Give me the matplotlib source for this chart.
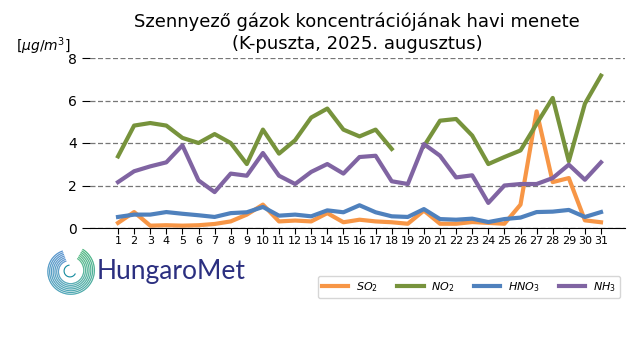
import numpy as np
import matplotlib
matplotlib.use("Agg")
import matplotlib.pyplot as plt
from matplotlib.colors import LinearSegmentedColormap

days = list(range(1, 32))
so2 = [0.24, 0.75, 0.11, 0.13, 0.11, 0.13, 0.19, 0.31, 0.63, 1.10, 0.31, 0.35, 0.31, 0.70, 0.27, 0.39,
       0.31, 0.27, 0.20, 0.82, 0.20, 0.20, 0.28, 0.24, 0.20, 1.10, 5.49, 2.16, 2.35, 0.36, 0.27]
no2 = [3.37, 4.82, 4.94, 4.82, 4.24, 4.00, 4.42, 4.00, 3.01, 4.63, 3.50, 4.13, 5.20, 5.62, 4.63, 4.31,
       4.63, 3.72, np.nan, 3.85, 5.05, 5.13, 4.35, 3.01, 3.34, 3.65, 4.90, 6.12, 3.14, 5.85, 7.17]
hno3 = [0.52, 0.63, 0.63, 0.75, 0.67, 0.60, 0.52, 0.70, 0.74, 0.99, 0.58, 0.63, 0.55, 0.83, 0.74, 1.07,
        0.74, 0.55, 0.52, 0.89, 0.42, 0.39, 0.44, 0.28, 0.42, 0.49, 0.75, 0.77, 0.85, 0.52, 0.75]
nh3 = [2.16, 2.67, 2.90, 3.09, 3.89, 2.24, 1.69, 2.56, 2.46, 3.53, 2.46, 2.07, 2.64, 3.01, 2.56, 3.34,
       3.40, 2.20, 2.07, 3.95, 3.40, 2.38, 2.48, 1.18, 2.00, 2.07, 2.07, 2.35, 2.98, 2.27, 3.09]
series_labels = ["$SO_2$", "$NO_2$", "$HNO_3$", "$NH_3$"]
colors = ["#F79646", "#77933C", "#4F81BD", "#8064A2"]
yticks = [0, 2, 4, 6, 8]

fig = plt.figure(figsize=(6.4, 3.6), dpi=100)
ax = fig.add_axes([90/640, 1-228/360, 535/640, 170/360])
for vals, lab, c in zip([so2, no2, hno3, nh3], series_labels, colors):
    ax.plot(days, vals, color=c, lw=3, label=lab)
ax.set_xlim(-0.74, 32.49)
ax.set_ylim(0, 8)
ax.set_yticks(yticks)
ax.set_xticks(days)
ax.tick_params(axis='x', labelsize=8, length=4, pad=2)
ax.tick_params(axis='y', labelsize=10, length=6)
for s in ["top", "right", "left"]:
    ax.spines[s].set_visible(False)
ax.yaxis.grid(True, linestyle=(0, (4, 2)), color="#777777", lw=0.9)
ax.set_axisbelow(True)

fig.text(357/640, 1-22/360, "Szennyező gázok koncentrációjának havi menete", ha='center', va='center', fontsize=13)
fig.text(357/640, 1-44/360, "(K-puszta, 2025. augusztus)", ha='center', va='center', fontsize=13)
fig.text(43/640, 1-46/360, r"[$\mu g/m^3$]", ha='center', va='center', fontsize=10)

leg = fig.legend(loc='center', bbox_to_anchor=(469/640, 1-287/360), ncol=4, fontsize=8,
                 handlelength=2.35, handletextpad=0.7, columnspacing=1.75, frameon=True)
leg.get_frame().set_edgecolor("#cccccc")

# logo spiral
lax = fig.add_axes([44/640, 1-297/360, 52/640, 52/360])
lax.set_aspect('equal')
lax.axis('off')
cmap = LinearSegmentedColormap.from_list("hm", ["#1f6fc0", "#138a9e", "#1aa35a"])
for k in range(7):
    r0 = 0.45 + k * 0.075
    t = np.linspace(np.deg2rad(-250), np.deg2rad(60), 200)
    r = r0 + 0.03 * (t - t[0])
    x = r * np.cos(t)
    y = r * np.sin(t)
    for i in range(len(t) - 1):
        lax.plot(x[i:i+2], y[i:i+2], color=cmap(i / len(t)), lw=0.8, solid_capstyle='butt')
t = np.linspace(np.deg2rad(100), np.deg2rad(330), 80)
lax.plot(0.25*np.cos(t), 0.25*np.sin(t), color="#138a9e", lw=0.8)
lax.set_xlim(-1.1, 1.1)
lax.set_ylim(-1.1, 1.1)
fig.text(97/640, 1-271/360, "HungaroMet", ha='left', va='center', fontsize=19, color="#2b2f80",
         family="Lato")

fig.savefig("out.png", dpi=100)
